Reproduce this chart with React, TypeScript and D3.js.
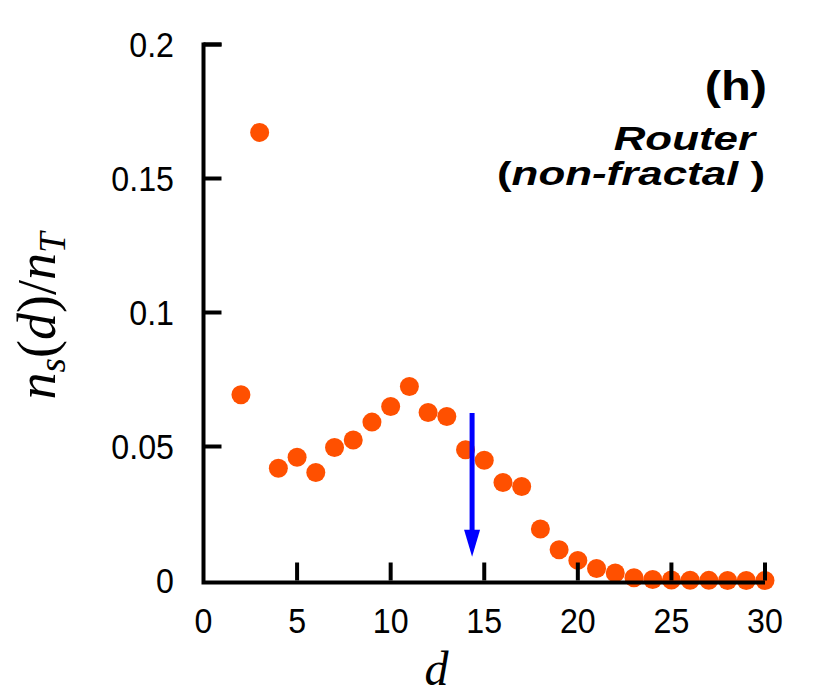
import React, { useEffect } from 'react';
import { scaleLinear } from 'd3';

// distance d and fraction n_s(d)/n_T
const distances = [2, 3, 4, 5, 6, 7, 8, 9, 10, 11, 12, 13, 14, 15, 16, 17, 18, 19, 20, 21, 22, 23, 24, 25, 26, 27, 28, 29, 30];
const fractions = [
  0.0693, 0.1672, 0.0419, 0.046, 0.0403, 0.0496, 0.0524, 0.0591, 0.0649, 0.0724,
  0.0627, 0.0612, 0.0488, 0.0449, 0.0366, 0.0351, 0.0192, 0.0115, 0.0075, 0.0045,
  0.0028, 0.001, 0.0004, 0.0002, 0.0001, 0.00005, 0.00003, 0.00002, 0.00001,
];
const xTicks = [0, 5, 10, 15, 20, 25, 30];
const yTicks = [0, 0.05, 0.1, 0.15, 0.2];
const yTickLabels = ['0', '0.05', '0.1', '0.15', '0.2'];
// mean distance marker (arrow)
const arrowD = 14.35;
const arrowFrom = 0.0625;
const arrowTo = 0.0089;

const W = 830;
const H = 698;

const App = () => {
  useEffect(() => {
    document.body.style.margin = '0';
  }, []);

  const x = scaleLinear().domain([0, 30]).range([203.5, 765]);
  const y = scaleLinear().domain([0, 0.2]).range([580.5, 44.5]);

  const sans = '"Liberation Sans", Arial, sans-serif';
  const serif = '"Liberation Serif", "Times New Roman", serif';
  const orange = '#ff5000';
  const tickLen = 18;

  const ax = x(arrowD);
  const headLen = 27;
  const headW = 8;

  // helvetica in the original is a bit narrower than Liberation Sans
  const tickText = (key: string | number, tx: number, ty: number, label: string, anchor: string) => (
    <text key={key} transform={`translate(${tx},${ty}) scale(0.92,1)`} textAnchor={anchor}>
      {label}
    </text>
  );

  return (
    <svg width={W} height={H} style={{ display: 'block' }}>
      <rect width={W} height={H} fill="#fff" />

      {/* points */}
      {distances.map((d, i) => (
        <circle key={d} cx={x(d)} cy={y(fractions[i])} r={9.5} fill={orange} />
      ))}

      {/* arrow */}
      <line x1={ax} x2={ax} y1={y(arrowFrom)} y2={y(arrowTo) - headLen + 2} stroke="#0000ff" strokeWidth={5} />
      <path
        d={`M${ax - headW},${y(arrowTo) - headLen} L${ax + headW},${y(arrowTo) - headLen} L${ax},${y(arrowTo)} Z`}
        fill="#0000ff"
      />

      {/* axes */}
      <g stroke="#000" strokeWidth={4} fill="none">
        <path d={`M${x(0)},${y(0.2)} H${x(0) + tickLen}`} />
        <path d={`M${x(0)},${y(0.2) - 2} V${y(0) + 2} H${x(30)}`} />
        {yTicks.slice(1).map((t) => (
          <line key={t} x1={x(0)} x2={x(0) + tickLen} y1={y(t)} y2={y(t)} />
        ))}
        {xTicks.slice(1).map((t) => (
          <line key={t} x1={x(t)} x2={x(t)} y1={y(0)} y2={y(0) - tickLen} />
        ))}
      </g>

      {/* tick labels */}
      <g fontFamily={sans} fontSize={35} fill="#000">
        {xTicks.map((t) => tickText(t, x(t), 633, String(t), 'middle'))}
        {yTicks.map((t, i) => tickText(t, 174, y(t) + 12.5, yTickLabels[i], 'end'))}
      </g>

      {/* axis titles */}
      <text x={x(12.45)} y={685} fontFamily={serif} fontStyle="italic" fontSize={48} textAnchor="middle">
        d
      </text>
      <text
        transform={`translate(55,316) rotate(-90)`}
        fontFamily={serif}
        fontSize={54}
        textAnchor="middle"
      >
        <tspan fontStyle="italic">n</tspan>
        <tspan fontStyle="italic" fontSize={37} dy={10}>s</tspan>
        <tspan dy={-10}>(</tspan>
        <tspan fontStyle="italic">d</tspan>
        <tspan>)/</tspan>
        <tspan fontStyle="italic">n</tspan>
        <tspan fontStyle="italic" fontSize={37} dy={10}>T</tspan>
      </text>

      {/* annotation: the original face is wide, so stretch horizontally */}
      <g fontFamily={sans} fontWeight="bold" textAnchor="end" fill="#000">
        <text transform="translate(767,100) scale(1.22,1)" fontSize={40}>(h)</text>
        <text transform="translate(755,150) scale(1.29,1)" fontSize={34} fontStyle="italic">Router</text>
        <text transform="translate(765,185) scale(1.29,1)" fontSize={34}>
          <tspan>(</tspan>
          <tspan fontStyle="italic">non-fractal </tspan>
          <tspan>)</tspan>
        </text>
      </g>
    </svg>
  );
};

export default App;
